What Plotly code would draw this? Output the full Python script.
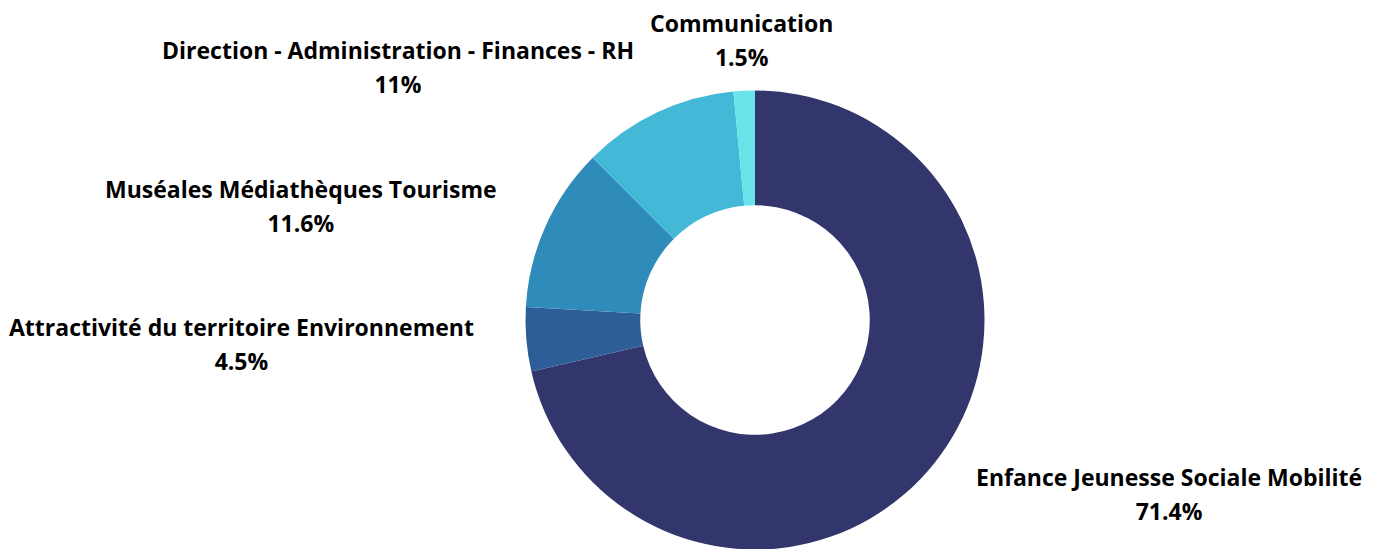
import math
import plotly.graph_objects as go

labels = [
    "Enfance Jeunesse Sociale Mobilité",
    "Attractivité du territoire Environnement",
    "Muséales Médiathèques Tourisme",
    "Direction - Administration - Finances - RH",
    "Communication",
]
values = [71.4, 4.5, 11.6, 11.0, 1.5]
colors = ["#32366C", "#2E5E97", "#2E8BBA", "#43B8D7", "#6AE3E8"]

W, H = 1374, 549
# pie geometry in pixels (figure has no margins; page body adds 8px offset)
cx, cy, rad = 747, 312, 229.5
label_r = rad * 1.22

fig = go.Figure()
fig.add_trace(go.Pie(
    labels=labels,
    values=values,
    hole=0.5,
    sort=False,
    direction="clockwise",
    rotation=0,
    marker=dict(colors=colors, line=dict(width=0)),
    textinfo="none",
    hoverinfo="label+percent",
    showlegend=False,
    domain=dict(
        x=[(cx - rad) / W, (cx + rad) / W],
        y=[1 - (cy + rad) / H, 1 - (cy - rad) / H],
    ),
))

# outside labels placed at slice mid-angles
total = sum(values)
cum = 0
for lab, v in zip(labels, values):
    mid = (cum + v / 2) / total * 2 * math.pi
    cum += v
    s, c = math.sin(mid), math.cos(mid)
    px = cx + label_r * s
    py = cy - label_r * c
    if s > 0.1:
        xa = "left"
    elif s < -0.1:
        xa = "right"
    else:
        xa = "center"
    pct = f"{v / total * 100:.3g}%"
    txt = (f"<span style='font-size:23px'><b>{lab}</b></span><br>"
           f"<span style='font-size:23px'><b>{pct}</b></span>")
    fig.add_annotation(
        x=px / W, y=1 - py / H, xref="paper", yref="paper",
        text=txt, showarrow=False, xanchor=xa, yanchor="middle",
        align="center",
        font=dict(family="Open Sans", size=26, color="#000000"),
    )

fig.update_layout(
    width=W,
    height=H,
    paper_bgcolor="white",
    plot_bgcolor="white",
    margin=dict(l=0, r=0, t=0, b=0),
    font=dict(family="Open Sans", size=18, color="#000000"),
)

fig.write_html("out.html")
